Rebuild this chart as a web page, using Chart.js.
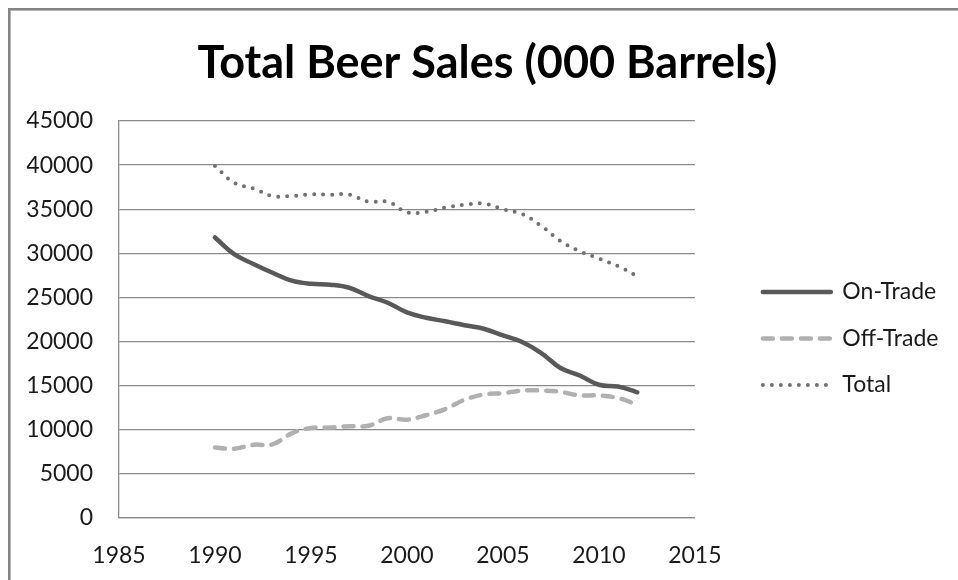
<!DOCTYPE html>
<html>
<head>
<meta charset="utf-8">
<title>Total Beer Sales</title>
<script src="https://cdn.jsdelivr.net/npm/chart.js@4/dist/chart.umd.min.js"></script>
<style>
  html, body { margin: 0; padding: 0; background: #fff; }
  #frame {
    position: absolute; left: 8px; top: 8px; width: 1000px; height: 1000px;
    border-left: 2px solid #858585; border-top: 2px solid #858585;
    box-shadow: inset 1px 1px 0 #b4b4b4;
  }
  #wrap { position: absolute; left: 0; top: 0; width: 958px; height: 580px; }
</style>
</head>
<body>
<div id="frame"></div>
<div id="wrap"><canvas id="myChart"></canvas></div>
<script>
// values (000 barrels)
var years = [1990, 1991, 1992, 1993, 1994, 1995, 1996, 1997, 1998, 1999, 2000, 2001,
             2002, 2003, 2004, 2005, 2006, 2007, 2008, 2009, 2010, 2011, 2012];
var onTrade = [31800, 29900, 28800, 27800, 26900, 26550, 26450, 26100, 25150, 24400, 23300, 22700,
               22300, 21850, 21450, 20700, 19950, 18700, 17000, 16150, 15100, 14900, 14250];
var offTrade = [8000, 7850, 8300, 8350, 9600, 10200, 10250, 10400, 10450, 11300, 11150, 11650,
                12350, 13400, 14000, 14150, 14450, 14450, 14300, 13900, 13900, 13600, 12850];
var total = [39900, 38000, 37350, 36500, 36500, 36700, 36650, 36650, 35850, 35850, 34650, 34700,
             35200, 35500, 35650, 35000, 34450, 33100, 31400, 30250, 29400, 28550, 27400];

var xTicks = [1985, 1990, 1995, 2000, 2005, 2010, 2015];
var yTicks = [0, 5000, 10000, 15000, 20000, 25000, 30000, 35000, 40000, 45000];

function points(values) {
    return years.map(function(y, i) { return {x: y, y: values[i]}; });
}

Chart.defaults.font.family = 'Lato';
Chart.defaults.color = '#1a1a1a';

var ctx = document.getElementById('myChart');
var myChart = new Chart(ctx, {
    type: 'line',
    data: {
        datasets: [{
            label: 'On-Trade',
            data: points(onTrade),
            borderColor: '#595959',
            borderWidth: 4.5,
            borderCapStyle: 'round'
        }, {
            label: 'Off-Trade',
            data: points(offTrade),
            borderColor: '#b0b0b0',
            borderWidth: 4.5,
            borderDash: [10, 9],
            borderCapStyle: 'round'
        }, {
            label: 'Total',
            data: points(total),
            borderColor: '#717171',
            borderWidth: 4,
            borderDash: [0, 9],
            borderCapStyle: 'round'
        }]
    },
    options: {
        responsive: true,
        maintainAspectRatio: false,
        animation: false,
        layout: { padding: { left: 26.5, right: 9.5 } },
        elements: {
            point: { radius: 0, hoverRadius: 0 },
            line: { tension: 0.4, fill: false }
        },
        scales: {
            x: {
                type: 'linear',
                min: 1985,
                max: 2015,
                afterBuildTicks: function(scale) {
                    scale.ticks = xTicks.map(function(v) { return {value: v}; });
                },
                afterFit: function(scale) { scale.height = 62; },
                grid: { display: false },
                border: { display: true, color: '#8a8a8a', width: 1.3 },
                ticks: {
                    font: { size: 23 },
                    padding: 15.5,
                    maxRotation: 0,
                    callback: function(value) { return String(value); }
                }
            },
            y: {
                min: 0,
                max: 45000,
                afterBuildTicks: function(scale) {
                    scale.ticks = yTicks.map(function(v) { return {value: v}; });
                },
                afterFit: function(scale) { scale.width = 92.5; },
                grid: { color: '#8a8a8a', lineWidth: 1.3, drawTicks: false },
                border: { display: true, color: '#8a8a8a', width: 1.3 },
                ticks: {
                    font: { size: 23 },
                    padding: 26,
                    callback: function(value) { return String(value); }
                }
            },
            gap: {
                // empty room between the plot and the legend
                position: 'right',
                display: true,
                afterFit: function(scale) { scale.width = 44.5; },
                grid: { display: false },
                border: { display: false },
                ticks: { display: false }
            }
        },
        plugins: {
            title: {
                display: true,
                text: 'Total Beer Sales (000 Barrels)',
                color: '#000',
                font: { size: 45, weight: 'bold' },
                padding: { top: 36.6, bottom: 30.4 }
            },
            legend: {
                position: 'right',
                maxWidth: 320,
                title: { display: true, text: ' ', font: { size: 10 }, padding: 42.5 },
                labels: {
                    usePointStyle: true,
                    pointStyle: 'line',
                    pointStyleWidth: 68,
                    font: { size: 23 },
                    color: '#000',
                    padding: 23.5,
                    generateLabels: function(chart) {
                        return chart.data.datasets.map(function(ds, i) {
                            return {
                                text: ds.label,
                                datasetIndex: i,
                                fillStyle: ds.borderColor,
                                strokeStyle: ds.borderColor,
                                lineWidth: ds.borderWidth,
                                lineDash: ds.borderDash || [],
                                lineCap: ds.borderCapStyle,
                                pointStyle: 'line',
                                hidden: false
                            };
                        });
                    }
                }
            },
            tooltip: { enabled: false }
        }
    }
});
</script>
</body>
</html>
